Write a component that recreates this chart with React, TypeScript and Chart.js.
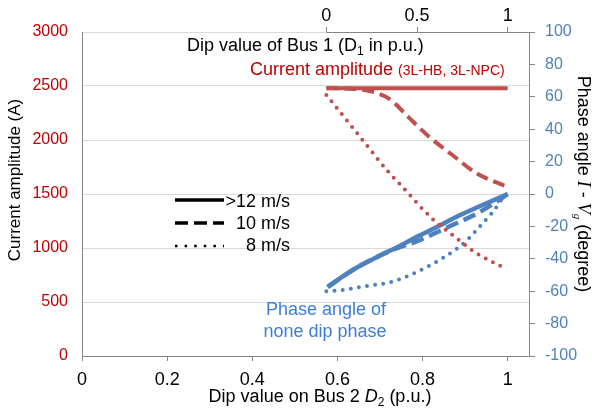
import React, { useEffect, useRef } from 'react';
import { Chart, registerables } from 'chart.js';

Chart.register(...registerables);

// ---- data ----
// Current amplitude (A) vs dip on bus 2 (D2)
const redSolidX = [0.574, 0.8, 1.0];
const redSolidY = [2480, 2480, 2480];
const redDashX = [0.574, 0.640, 0.675, 0.710, 0.734, 0.762, 0.816, 0.870, 0.926, 1.0];
const redDashY = [2481, 2472, 2454, 2407, 2343, 2231, 2028, 1861, 1694, 1565];
const redDotX = [0.574, 0.610, 0.659, 0.718, 0.755, 0.821, 0.879, 0.926, 0.992];
const redDotY = [2417, 2241, 2000, 1713, 1556, 1278, 1093, 954, 815];
// Phase angle (degree) vs D2
const blueSolidX = [0.577, 0.610, 0.645, 0.700, 0.739, 0.790, 0.832, 0.880, 0.926, 1.0];
const blueSolidY = [-57.4, -51.3, -45.5, -38, -33, -26, -20.5, -14, -8.5, 0];
const blueDashX = [0.577, 0.645, 0.700, 0.748, 0.783, 0.825, 0.865, 0.921, 0.973, 1.0];
const blueDashY = [-57.4, -45.5, -38, -32.6, -29.6, -24.7, -19.8, -13, -4.9, 0];
const blueDotX = [0.574, 0.612, 0.668, 0.727, 0.781, 0.828, 0.879, 0.905, 0.933, 0.961, 0.980, 0.992];
const blueDotY = [-60, -59.3, -56.8, -54.3, -48.8, -42.6, -34, -28.4, -20.4, -12.3, -5.6, -0.6];

const bottomTicks = [0, 0.2, 0.4, 0.6, 0.8, 1];
const topTicks = [0, 0.5, 1];
const xMin = 0;
const xMax = 1.05;
const d2AtD1Zero = 0.574; // D1 = 0 corresponds to D2 = 0.574, D1 = 1 to D2 = 1
const legendLabels = ['>12 m/s', '10 m/s', '8 m/s'];

const RED = '#C0504D';
const BLUE = '#4F81BD';
const RED_TEXT = '#C00000';
const BLUE_TEXT = '#3B7DD8';
const AXIS_GRAY = '#868686';
const SANS = '"Liberation Sans", Arial, sans-serif';
const SERIF = '"Liberation Serif", "Times New Roman", serif';

const zip = (xs: number[], ys: number[]) => xs.map((x, i) => ({ x, y: ys[i] }));

type Part = { t: string; font: string; dy?: number; color?: string };

function richWidth(ctx: CanvasRenderingContext2D, parts: Part[]) {
  let w = 0;
  for (const p of parts) {
    ctx.font = p.font;
    w += ctx.measureText(p.t).width;
  }
  return w;
}

function drawRich(ctx: CanvasRenderingContext2D, parts: Part[], x: number, y: number, align: 'left' | 'center', color: string) {
  const w = richWidth(ctx, parts);
  let cx = align === 'center' ? x - w / 2 : x;
  ctx.textAlign = 'left';
  ctx.textBaseline = 'alphabetic';
  for (const p of parts) {
    ctx.font = p.font;
    ctx.fillStyle = p.color || color;
    ctx.fillText(p.t, cx, y + (p.dy || 0));
    cx += ctx.measureText(p.t).width;
  }
}

const annotationPlugin = {
  id: 'annotations',
  afterDraw(chart: any) {
    const ctx: CanvasRenderingContext2D = chart.ctx;
    const area = chart.chartArea;
    const top = chart.scales.x2;
    ctx.save();

    // top axis line, from D1 = 0 to the right edge
    ctx.strokeStyle = AXIS_GRAY;
    ctx.lineWidth = 1;
    ctx.beginPath();
    ctx.moveTo(top.getPixelForValue(0), area.top + 0.5);
    ctx.lineTo(area.right, area.top + 0.5);
    ctx.stroke();

    const f18 = `18px ${SANS}`;
    const f12 = `12px ${SANS}`;

    // left title
    ctx.save();
    ctx.translate(20, 180);
    ctx.rotate(-Math.PI / 2);
    ctx.font = `17px ${SANS}`;
    ctx.fillStyle = '#000';
    ctx.textAlign = 'center';
    ctx.textBaseline = 'alphabetic';
    ctx.fillText('Current amplitude (A)', 0, 0);
    ctx.restore();

    // right title
    ctx.save();
    ctx.translate(578, 184);
    ctx.rotate(Math.PI / 2);
    drawRich(ctx, [
      { t: 'Phase angle ', font: f18 },
      { t: 'I', font: `italic 18px ${SERIF}` },
      { t: ' - ', font: f18 },
      { t: 'V', font: `italic 18px ${SERIF}` },
      { t: 'g', font: `italic 11px ${SERIF}`, dy: 4 },
      { t: ' (degree)', font: f18 },
    ], 0, 0, 'center', '#000');
    ctx.restore();

    // bottom title
    drawRich(ctx, [
      { t: 'Dip value on Bus 2 ', font: f18 },
      { t: 'D', font: `italic 18px ${SANS}` },
      { t: '2', font: f12, dy: 4 },
      { t: ' (p.u.)', font: f18 },
    ], 320, 402, 'center', '#000');

    // top annotation
    drawRich(ctx, [
      { t: 'Dip value of Bus 1 (D', font: f18 },
      { t: '1', font: f12, dy: 4 },
      { t: ' in p.u.)', font: f18 },
    ], 187, 51, 'left', '#000');

    drawRich(ctx, [
      { t: 'Current amplitude ', font: f18 },
      { t: '(3L-HB, 3L-NPC)', font: `14px ${SANS}` },
    ], 250, 75, 'left', RED_TEXT);

    // phase annotation
    ctx.font = f18;
    ctx.fillStyle = BLUE_TEXT;
    ctx.textAlign = 'center';
    ctx.textBaseline = 'alphabetic';
    ctx.fillText('Phase angle of', 326, 315);
    ctx.fillText('none dip phase', 325, 337);

    // legend for line styles
    const ys = [200, 223, 246];
    const baselines = [207, 229, 251];
    ctx.strokeStyle = '#000';
    for (let i = 0; i < 3; i++) {
      ctx.beginPath();
      if (i === 0) { ctx.setLineDash([]); ctx.lineWidth = 3.5; ctx.lineCap = 'butt'; }
      if (i === 1) { ctx.setLineDash([13, 6]); ctx.lineWidth = 3.5; ctx.lineCap = 'butt'; }
      if (i === 2) { ctx.setLineDash([2.5, 7.1]); ctx.lineWidth = 2.5; ctx.lineCap = 'butt'; }
      ctx.moveTo(175, ys[i]);
      ctx.lineTo(224, ys[i]);
      ctx.stroke();
    }
    ctx.setLineDash([]);
    ctx.font = f18;
    ctx.fillStyle = '#000';
    ctx.textAlign = 'right';
    ctx.textBaseline = 'alphabetic';
    for (let i = 0; i < 3; i++) ctx.fillText(legendLabels[i], 290, baselines[i]);

    ctx.restore();
  },
};

export default function App() {
  const ref = useRef<HTMLCanvasElement | null>(null);

  useEffect(() => {
    if (!ref.current) return;
    Chart.defaults.font.family = SANS;
    const lineBase = { pointRadius: 0, pointHoverRadius: 0, fill: false, cubicInterpolationMode: 'monotone' };
    const chart = new Chart(ref.current, {
      type: 'line',
      data: {
        datasets: [
          { ...lineBase, data: zip(redSolidX, redSolidY), borderColor: RED, borderWidth: 4, yAxisID: 'y', xAxisID: 'x' },
          { ...lineBase, data: zip(redDashX, redDashY), borderColor: RED, borderWidth: 4, borderDash: [12, 6], yAxisID: 'y', xAxisID: 'x' },
          { ...lineBase, data: zip(redDotX, redDotY), borderColor: RED, borderWidth: 4, borderDash: [0, 8.2], borderCapStyle: 'round', yAxisID: 'y', xAxisID: 'x' },
          { ...lineBase, data: zip(blueSolidX, blueSolidY), borderColor: BLUE, borderWidth: 4.5, yAxisID: 'y2', xAxisID: 'x' },
          { ...lineBase, data: zip(blueDashX, blueDashY), borderColor: BLUE, borderWidth: 4.5, borderDash: [13, 6], yAxisID: 'y2', xAxisID: 'x' },
          { ...lineBase, data: zip(blueDotX, blueDotY), borderColor: BLUE, borderWidth: 4, borderDash: [0, 8.2], borderCapStyle: 'round', yAxisID: 'y2', xAxisID: 'x' },
        ],
      },
      options: {
        responsive: false,
        animation: false,
        layout: { padding: 0 },
        plugins: { legend: { display: false }, tooltip: { enabled: false }, title: { display: false } },
        scales: {
          x: {
            type: 'linear',
            position: 'bottom',
            min: xMin,
            max: xMax,
            afterBuildTicks: (s: any) => { s.ticks = bottomTicks.map((v) => ({ value: v })); },
            afterFit: (s: any) => { s.height = 59; },
            ticks: { color: '#000', font: { size: 18 }, padding: 8, maxRotation: 0, callback: (v: any) => String(v) },
            grid: { drawOnChartArea: false, drawTicks: true, tickLength: 5, tickColor: AXIS_GRAY },
            border: { display: true, color: AXIS_GRAY, width: 1 },
          },
          x2: {
            type: 'linear',
            position: 'top',
            min: (xMin - d2AtD1Zero) / (1 - d2AtD1Zero),
            max: (xMax - d2AtD1Zero) / (1 - d2AtD1Zero),
            afterBuildTicks: (s: any) => { s.ticks = topTicks.map((v) => ({ value: v })); },
            afterFit: (s: any) => { s.height = 32; },
            ticks: { color: '#000', font: { size: 18 }, padding: 0, maxRotation: 0, callback: (v: any) => String(v) },
            grid: { drawOnChartArea: false, drawTicks: true, tickLength: 5, tickColor: AXIS_GRAY },
            border: { display: false },
          },
          y: {
            type: 'linear',
            position: 'left',
            min: 0,
            max: 3000,
            ticks: { stepSize: 500, color: RED_TEXT, font: { size: 16 }, padding: 14, callback: (v: any) => String(v) },
            afterFit: (s: any) => { s.width = 82; },
            grid: { color: '#D9D9D9', drawTicks: false },
            border: { display: true, color: AXIS_GRAY, width: 1 },
          },
          y2: {
            type: 'linear',
            position: 'right',
            min: -100,
            max: 100,
            ticks: { stepSize: 20, color: '#4F81BD', font: { size: 16 }, padding: 10, callback: (v: any) => String(v) },
            afterFit: (s: any) => { s.width = 63; },
            grid: { drawOnChartArea: false, drawTicks: true, tickLength: 6, tickColor: AXIS_GRAY },
            border: { display: true, color: AXIS_GRAY, width: 1 },
          },
        },
      } as any,
      plugins: [annotationPlugin],
    });
    return () => chart.destroy();
  }, []);

  return (
    <div style={{ position: 'absolute', left: 0, top: 0, width: 592, height: 415, background: '#fff' }}>
      <canvas ref={ref} width={592} height={415} style={{ display: 'block' }} />
    </div>
  );
}
